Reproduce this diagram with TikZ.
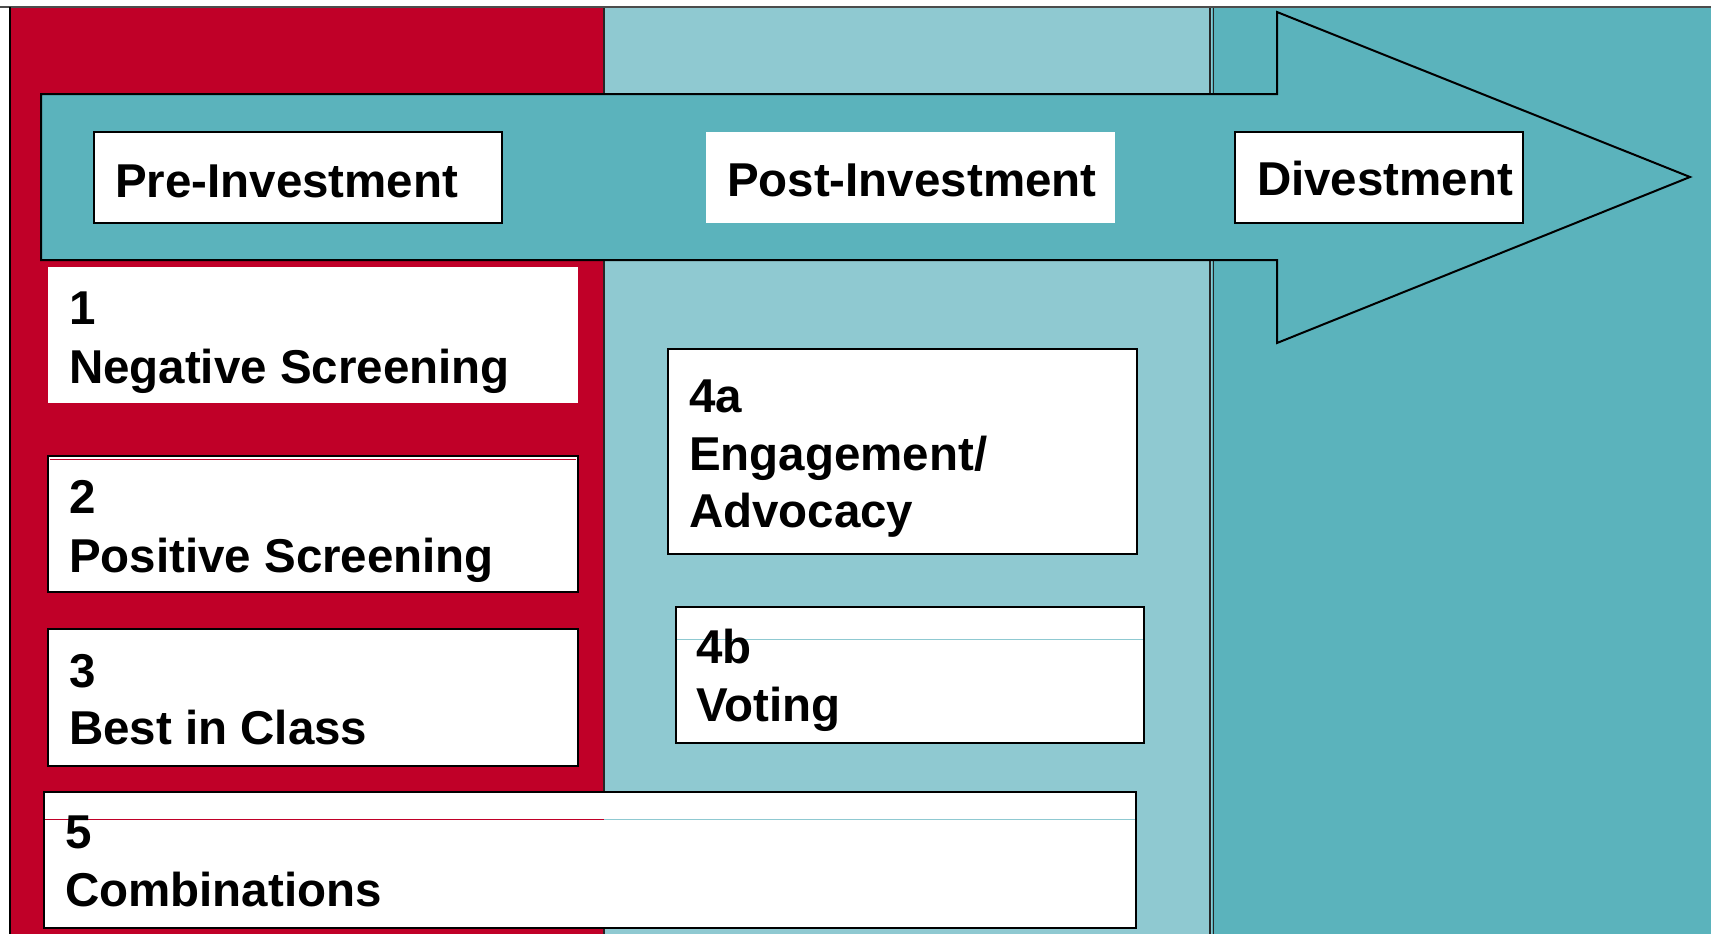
\documentclass[tikz,border=0pt]{standalone}
\usepackage{fontspec}
\setmainfont{Liberation Sans}
\usetikzlibrary{calc}
\definecolor{cred}{RGB}{192,0,40}
\definecolor{clight}{RGB}{143,201,209}
\definecolor{cteal}{RGB}{91,179,188}
\begin{document}
\begin{tikzpicture}[x=1pt,y=-1pt,
  lbl/.style={anchor=base west,inner sep=0pt,outer sep=0pt,font=\fontsize{47.5}{58}\bfseries\selectfont},
  boxbase/.style={anchor=north west,inner sep=0pt,outer sep=0pt,fill=white},
  wbox/.style={boxbase,draw=black,line width=2pt},
  nbox/.style={boxbase,draw=none},
  colline/.style={draw=black!85,line width=1.5pt}]
\useasboundingbox (0,0) rectangle (1711,934);
\fill[white] (0,0) rectangle (1711,934);
% columns
\fill[cred] (10,8) rectangle (604,934);
\fill[clight] (604,8) rectangle (1212,934);
\fill[cteal] (1212,8) rectangle (1711,934);
\draw[colline] (604,8) -- (604,934);
\draw[colline,line width=1.2pt] (1210,8) -- (1210,934);
\draw[colline,line width=1.2pt] (1213.5,8) -- (1213.5,934);
\draw[line width=2pt,black!70] (0,7) -- (1711,7);
\draw[line width=2pt,black] (10,7) -- (10,934);
% arrow
\draw[fill=cteal,line width=2pt,line join=miter]
  (41,94) -- (1277,94) -- (1277,12) -- (1690,177) -- (1277,343) -- (1277,260) -- (41,260) -- cycle;
% phase labels
\node[wbox,minimum width=408pt,minimum height=91pt] (pre) at (94,132) {};
\node[lbl] (pret) at ($(pre.north west)+(21,65)$) {Pre-Investment};
\node[nbox,minimum width=409pt,minimum height=91pt] (post) at (706,132) {};
\node[lbl] (postt) at ($(post.north west)+(21,64)$) {Post-Investment};
\node[wbox,minimum width=288pt,minimum height=91pt] (div) at (1235,132) {};
\node[lbl] (divt) at ($(div.north west)+(22,63)$) {Divestment};
% box 1
\node[nbox,minimum width=530pt,minimum height=136pt] (b1) at (48,267) {};
\node[lbl] (b1a) at ($(b1.north west)+(21,57)$) {1};
\node[lbl] (b1b) at ($(b1.north west)+(21,116)$) {Negative Screening};
% box 2
\node[wbox,minimum width=530pt,minimum height=136pt] (b2) at (48,456) {};
\draw[cred,line width=0.8pt] ($(b2.north west)+(2,3)$) -- ($(b2.north east)+(-2,3)$);
\node[lbl] (b2a) at ($(b2.north west)+(21,57)$) {2};
\node[lbl] (b2b) at ($(b2.north west)+(21,116)$) {Positive Screening};
% box 3
\node[wbox,minimum width=530pt,minimum height=137pt] (b3) at (48,629) {};
\node[lbl] (b3a) at ($(b3.north west)+(21,58)$) {3};
\node[lbl] (b3b) at ($(b3.north west)+(21,115)$) {Best in Class};
% box 4a
\node[wbox,minimum width=469pt,minimum height=205pt] (b4a) at (668,349) {};
\node[lbl] (b4aa) at ($(b4a.north west)+(21,63)$) {4a};
\node[lbl] (b4ab) at ($(b4a.north west)+(21,121)$) {Engagement/};
\node[lbl] (b4ac) at ($(b4a.north west)+(21,178)$) {Advocacy};
% box 4b
\node[wbox,minimum width=468pt,minimum height=136pt] (b4b) at (676,607) {};
\draw[clight,line width=0.8pt] ($(b4b.north west)+(1,32)$) -- ($(b4b.north east)+(-1,32)$);
\node[lbl] (b4ba) at ($(b4b.north west)+(20,56)$) {4b};
\node[lbl] (b4bb) at ($(b4b.north west)+(20,114)$) {Voting};
% box 5
\node[wbox,minimum width=1092pt,minimum height=136pt] (b5) at (44,792) {};
\draw[cred,line width=0.8pt] ($(b5.north west)+(1,27)$) -- (604,819);
\draw[clight,line width=0.8pt] (604,819) -- ($(b5.north east)+(-1,27)$);
\node[lbl] (b5a) at ($(b5.north west)+(21,56)$) {5};
\node[lbl] (b5b) at ($(b5.north west)+(21,114)$) {Combinations};
\end{tikzpicture}
\end{document}
